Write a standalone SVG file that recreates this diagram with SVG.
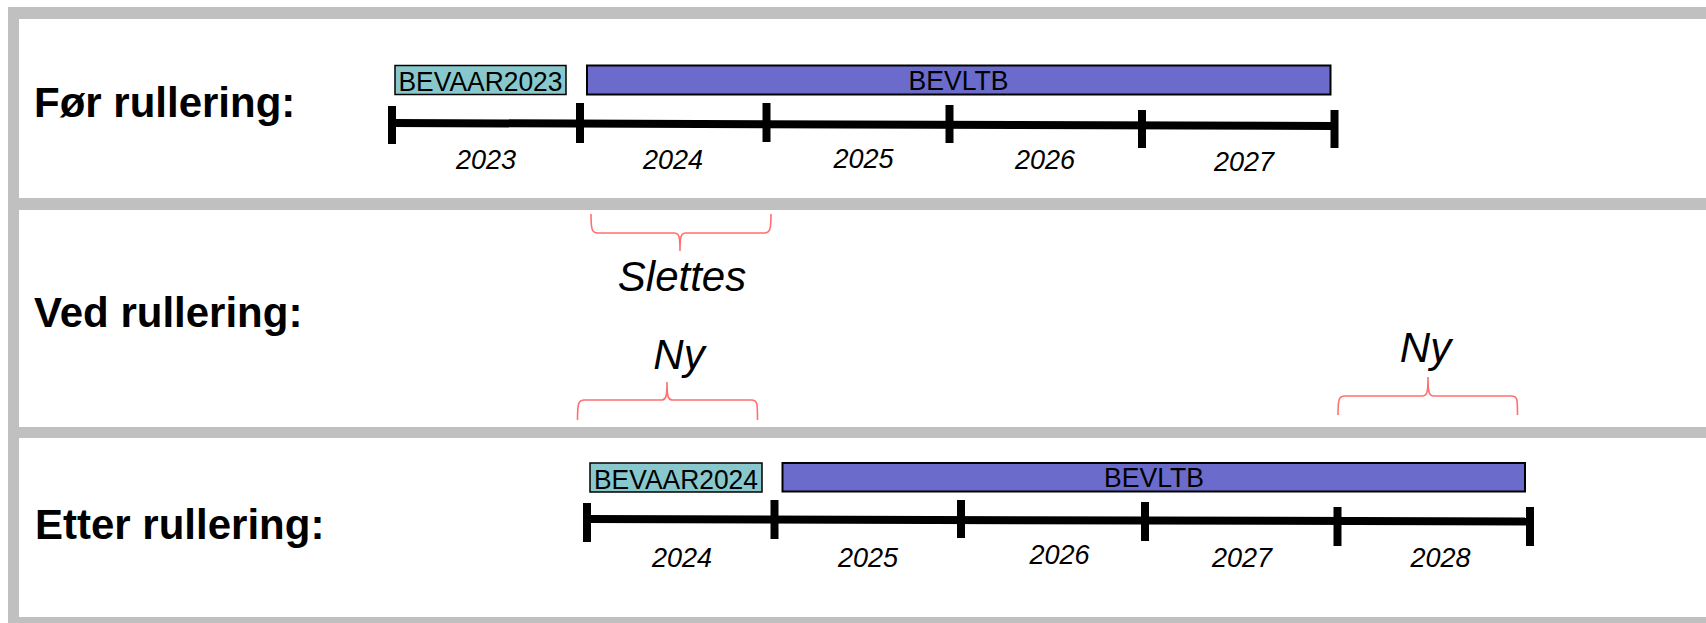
<svg xmlns="http://www.w3.org/2000/svg" width="1706" height="623" viewBox="0 0 1706 623">
<style>
.frame{fill:#c0c0c0}
.lbl{font-family:"Liberation Sans",Arial,sans-serif;font-weight:bold;font-size:42px;fill:#000}
.yr{font-family:"Liberation Sans",Arial,sans-serif;font-style:italic;font-size:27px;fill:#000;text-anchor:middle}
.note{font-family:"Liberation Sans",Arial,sans-serif;font-style:italic;font-size:42px;fill:#000;text-anchor:middle}
.box{font-family:"Liberation Sans",Arial,sans-serif;font-size:28px;fill:#000;text-anchor:middle}
.aar{fill:#88c8cc;stroke:#000;stroke-width:1.5}
.ltb{fill:#6b6bcc;stroke:#000;stroke-width:2}
.axis{stroke:#000;stroke-width:8;fill:none}
.brace{stroke:#ff7070;stroke-width:1.6;fill:none}
</style>
<rect width="1706" height="623" fill="#fff"/>
<g id="frame">
<rect class="frame" x="8" y="7" width="1698" height="12"/>
<rect class="frame" x="8" y="7" width="11" height="616"/>
<rect class="frame" x="8" y="198" width="1698" height="12"/>
<rect class="frame" x="8" y="427" width="1698" height="11"/>
<rect class="frame" x="8" y="617" width="1698" height="6"/>
</g>
<g id="row-labels">
<text id="lbl-for" class="lbl" x="34" y="117">Før rullering:</text>
<text id="lbl-ved" class="lbl" x="34" y="327">Ved rullering:</text>
<text id="lbl-etter" class="lbl" x="35" y="539">Etter rullering:</text>
</g>
<g id="bevaar2023">
<rect class="aar" x="395" y="65.5" width="171" height="29"/>
<text class="box" x="480.5" y="91" textLength="164" lengthAdjust="spacingAndGlyphs">BEVAAR2023</text>
</g>
<g id="bevltb-1">
<rect class="ltb" x="587" y="65.5" width="743.5" height="29"/>
<text class="box" x="958.5" y="90" textLength="100" lengthAdjust="spacingAndGlyphs">BEVLTB</text>
</g>
<g id="timeline-1">
<line class="axis" x1="392" y1="123" x2="1334" y2="126"/>
<line class="axis" x1="392" y1="106" x2="392" y2="144"/>
<line class="axis" x1="580" y1="103" x2="580" y2="143"/>
<line class="axis" x1="766.5" y1="103" x2="766.5" y2="142"/>
<line class="axis" x1="949.5" y1="105" x2="949.5" y2="143"/>
<line class="axis" x1="1142" y1="110" x2="1142" y2="148"/>
<line class="axis" x1="1334.5" y1="110" x2="1334.5" y2="148"/>
<text class="yr" x="486" y="169">2023</text>
<text class="yr" x="673" y="169">2024</text>
<text class="yr" x="863.5" y="168">2025</text>
<text class="yr" x="1045" y="169">2026</text>
<text class="yr" x="1244" y="170.5">2027</text>
</g>
<g id="connectors">
<path id="brace-slettes" class="brace" d="M591,214 C591,230 592,233 598,233 L674,233 C679,233 680,236 680,251 C680,236 681,233 686,233 L764,233 C770,233 771,230 771,214"/>
<path id="brace-ny-1" class="brace" d="M577.5,420 C577.5,403 578.5,400 584.5,400 L661,400 C666,400 667,397 667,382 C667,397 668,400 673,400 L751.5,400 C757.5,400 757.5,403 757.5,420"/>
<path id="brace-ny-2" class="brace" d="M1338,415 C1338,399 1339,396 1345,396 L1422,396 C1427,396 1428,393 1428,377 C1428,393 1429,396 1434,396 L1511.5,396 C1517.5,396 1517.5,399 1517.5,415"/>
</g>
<g id="slettes"><text class="note" x="682" y="291">Slettes</text></g>
<g id="ny-1"><text class="note" x="679" y="369">Ny</text></g>
<g id="ny-2"><text class="note" x="1425.5" y="362">Ny</text></g>
<g id="bevaar2024">
<rect class="aar" x="590" y="463" width="172" height="29"/>
<text class="box" x="676" y="489" textLength="164" lengthAdjust="spacingAndGlyphs">BEVAAR2024</text>
</g>
<g id="bevltb-2">
<rect class="ltb" x="782.5" y="463" width="742.5" height="28.5"/>
<text class="box" x="1154" y="487" textLength="100" lengthAdjust="spacingAndGlyphs">BEVLTB</text>
</g>
<g id="timeline-2">
<line class="axis" x1="587" y1="519" x2="1530" y2="521.5"/>
<line class="axis" x1="587" y1="503" x2="587" y2="542"/>
<line class="axis" x1="774.5" y1="500" x2="774.5" y2="539"/>
<line class="axis" x1="961" y1="500" x2="961" y2="538"/>
<line class="axis" x1="1145" y1="502" x2="1145" y2="541"/>
<line class="axis" x1="1337.5" y1="507" x2="1337.5" y2="546"/>
<line class="axis" x1="1530" y1="507" x2="1530" y2="546"/>
<text class="yr" x="682" y="566.5">2024</text>
<text class="yr" x="868" y="566.5">2025</text>
<text class="yr" x="1059.5" y="564">2026</text>
<text class="yr" x="1242" y="567">2027</text>
<text class="yr" x="1440.5" y="566.5">2028</text>
</g>
</svg>
